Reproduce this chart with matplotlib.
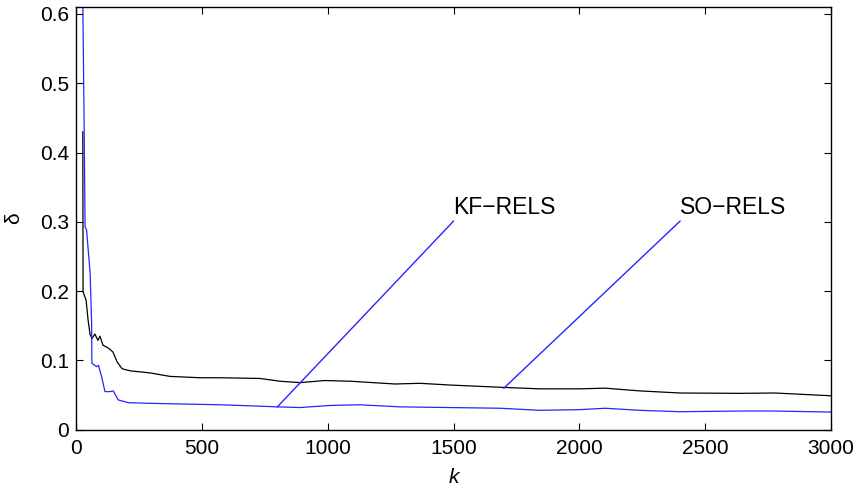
from matplotlib import pyplot as plt

plt.rcParams['font.family'] = ['Liberation Sans', 'DejaVu Sans']

# SO-RELS (black) estimation error
so_k = [27, 28, 40, 48, 56, 64, 75, 87, 95, 107, 123, 135, 147, 163, 183, 215, 294,
        373, 493, 572, 731, 810, 890, 989, 1089, 1267, 1367, 1486, 1704, 1843,
        2002, 2102, 2241, 2400, 2638, 2777, 3000]
so_delta = [0.43, 0.199, 0.187, 0.158, 0.137, 0.132, 0.138, 0.129, 0.135, 0.122,
            0.119, 0.116, 0.112, 0.098, 0.088, 0.085, 0.082, 0.077, 0.075, 0.075,
            0.074, 0.070, 0.068, 0.071, 0.070, 0.066, 0.067, 0.0645, 0.061, 0.059,
            0.059, 0.060, 0.056, 0.053, 0.0525, 0.053, 0.049]

# KF-RELS (blue) estimation error
kf_k = [26, 32, 36, 42, 56, 62, 63, 82, 89, 102, 115, 135, 148, 168, 208, 307, 440,
        572, 731, 799, 890, 1009, 1128, 1287, 1486, 1685, 1843, 2002, 2102, 2241,
        2400, 2638, 2777, 3000]
kf_delta = [0.65, 0.447, 0.293, 0.288, 0.226, 0.154, 0.096, 0.091, 0.093, 0.076,
            0.055, 0.055, 0.056, 0.043, 0.039, 0.038, 0.037, 0.036, 0.034, 0.033,
            0.032, 0.035, 0.036, 0.033, 0.032, 0.031, 0.028, 0.029, 0.031, 0.028,
            0.026, 0.027, 0.027, 0.0255]

# annotation: (label, point on curve, text anchor)
labels = ['KF\u2212RELS', 'SO\u2212RELS']
label_from = [(800, 0.033), (1700, 0.060)]
label_to = [(1500, 0.301), (2400, 0.301)]

fig = plt.figure(figsize=(8.6, 4.9), dpi=100)
ax = fig.add_axes([0.0884, 0.123, 0.8779, 0.8627])

ax.plot(so_k, so_delta, color='black', lw=0.9)
ax.plot(kf_k, kf_delta, color='#2525ff', lw=0.9)

for name, p0, p1 in zip(labels, label_from, label_to):
    ax.plot([p0[0], p1[0]], [p0[1], p1[1]], color='#2525ff', lw=1.0)
    ax.text(p1[0], p1[1] + 0.02, name, ha='left', va='center', fontsize=16.5)

ax.set_xlim(0, 3000)
ax.set_ylim(0, 0.61)
ax.set_xticks([0, 500, 1000, 1500, 2000, 2500, 3000])
ax.set_yticks([0, 0.1, 0.2, 0.3, 0.4, 0.5, 0.6])
ax.set_yticklabels(['0', '0.1', '0.2', '0.3', '0.4', '0.5', '0.6'])
ax.tick_params(direction='in', top=True, right=True, length=5, width=0.8,
               labelsize=15)
ax.tick_params(axis='x', pad=7)
ax.tick_params(axis='y', pad=5)
for s in ax.spines.values():
    s.set_linewidth(1.0)

ax.set_xlabel('k', fontsize=15, style='italic')
ax.set_ylabel('\u03b4', fontsize=15)
ax.xaxis.set_label_coords(0.5, -0.09)
ax.yaxis.set_label_coords(-0.07, 0.5)

fig.savefig('out.png', dpi=100)
